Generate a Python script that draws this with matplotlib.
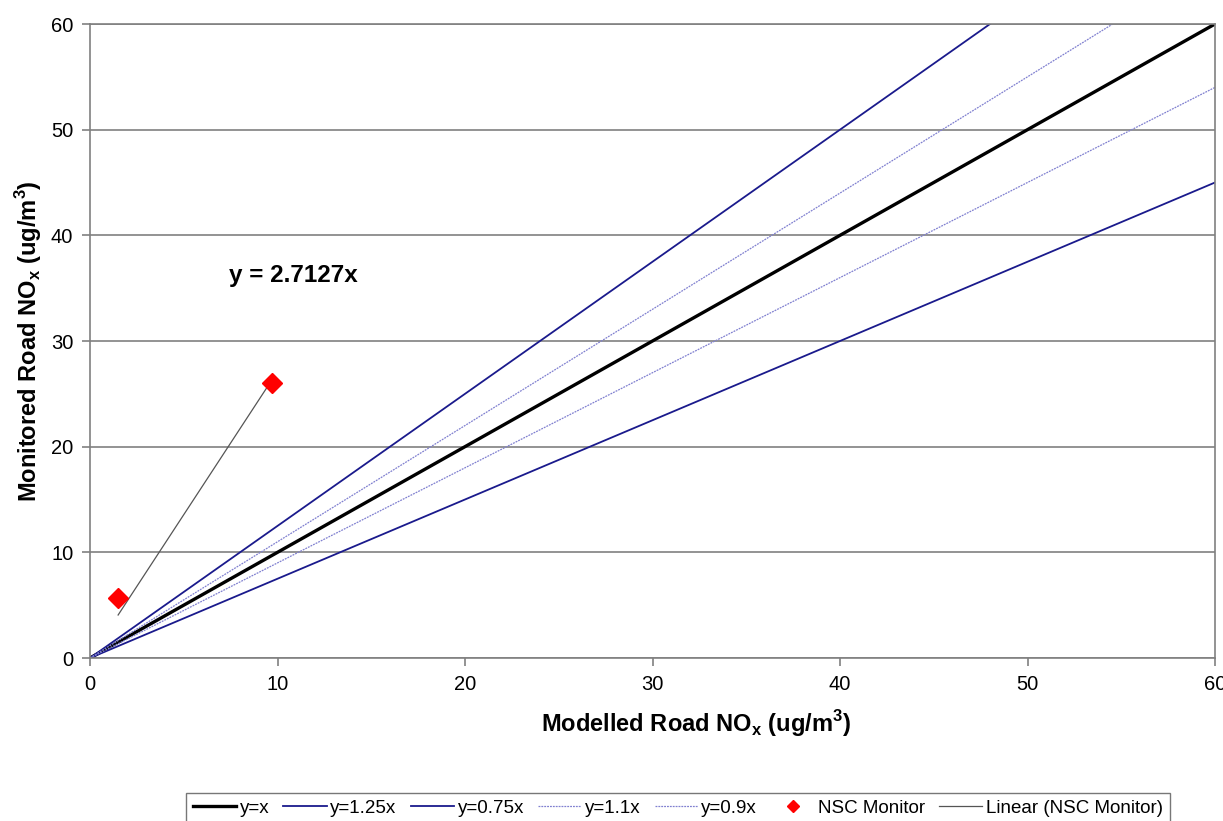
import numpy as np
import matplotlib
matplotlib.use("Agg")
import matplotlib.pyplot as plt

plt.rcParams['font.family'] = ['Liberation Sans', 'DejaVu Sans']

# Datos
x_ref = [0, 60]
pendientes = [1.0, 1.25, 0.75, 1.1, 0.9]
etiquetas = ['y=x', 'y=1.25x', 'y=0.75x', 'y=1.1x', 'y=0.9x']
monitor_x = [1.5, 9.7]
monitor_y = [5.7, 26.0]
pendiente_ajuste = 2.7127

estilos = [
    dict(color='black', lw=2.4, ls='-'),
    dict(color='#1a1a8c', lw=1.3, ls='-'),
    dict(color='#1a1a8c', lw=1.3, ls='-'),
    dict(color='#8080d0', lw=0.9, ls=(0, (1.5, 0.8))),
    dict(color='#8080d0', lw=0.9, ls=(0, (1.5, 0.8))),
]

fig = plt.figure(figsize=(12.23, 8.21), dpi=100)
ax = fig.add_axes([90 / 1223, 1 - 658 / 821, 1125 / 1223, 634 / 821])

xs = np.array(x_ref, dtype=float)
for m, lab, st in zip(pendientes, etiquetas, estilos):
    ax.plot(xs, m * xs, label=lab, **st)

ax.plot(monitor_x, monitor_y, ls='none', marker='D', color='red', ms=10,
        label='NSC Monitor', zorder=5)
xa = np.array(monitor_x)
ax.plot(xa, pendiente_ajuste * xa, color='#555555', lw=0.9,
        label='Linear (NSC Monitor)')

ax.text(7.4, 36.2, 'y = 2.7127x', fontsize=17.5, fontweight='bold', ha='left', va='center')

ax.set_xlim(0, 60)
ax.set_ylim(0, 60)
ax.set_xticks(np.arange(0, 61, 10))
ax.set_yticks(np.arange(0, 61, 10))
ax.yaxis.grid(True, color='#808080', lw=1.2)
ax.set_axisbelow(True)
for s in ax.spines.values():
    s.set_color('#808080')
    s.set_linewidth(1.2)
ax.tick_params(axis='both', labelsize=14.5, color='#808080', length=6, width=1.2)
ax.tick_params(axis='y', pad=6)
ax.tick_params(axis='x', pad=6)

ax.set_xlabel('Modelled Road NO$_\\mathregular{x}$ (ug/m$^\\mathregular{3}$)',
              fontsize=17, fontweight='bold')
ax.xaxis.set_label_coords(0.539, -0.104, transform=ax.transAxes)
ax.xaxis.label.set_va('center')
ax.set_ylabel('Monitored Road NO$_\\mathregular{x}$ (ug/m$^\\mathregular{3}$)',
              fontsize=17, fontweight='bold', labelpad=5)

leg = fig.legend(loc='center', bbox_to_anchor=(678 / 1223, 1 - 808 / 821), ncol=7,
                 fontsize=13.5, frameon=True, fancybox=False, handlelength=2.3,
                 handletextpad=0.2, columnspacing=0.75, borderpad=0.35,
                 markerscale=0.6)
leg.get_frame().set_edgecolor('#555555')
leg.get_frame().set_linewidth(1.0)

plt.savefig('out.png', dpi=100)
plt.close()
